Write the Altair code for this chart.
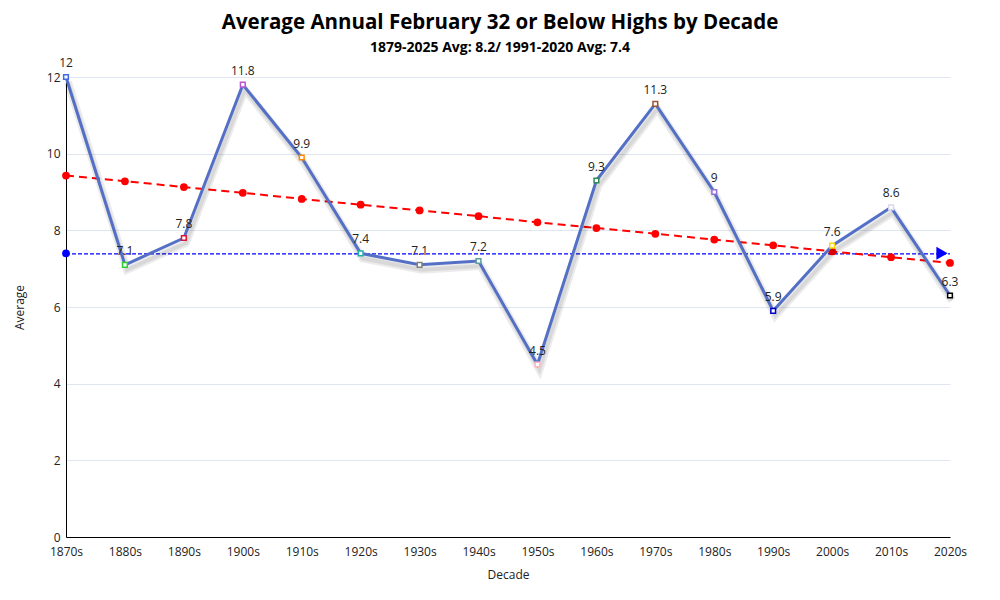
import altair as alt
import pandas as pd

decades = ["1870s", "1880s", "1890s", "1900s", "1910s", "1920s", "1930s", "1940s",
           "1950s", "1960s", "1970s", "1980s", "1990s", "2000s", "2010s", "2020s"]
values = [12, 7.1, 7.8, 11.8, 9.9, 7.4, 7.1, 7.2, 4.5, 9.3, 11.3, 9, 5.9, 7.6, 8.6, 6.3]
trend = [9.43, 9.28, 9.13, 8.98, 8.82, 8.67, 8.52, 8.37, 8.21, 8.06, 7.91, 7.76, 7.61, 7.45, 7.30, 7.15]
normal = 7.4
point_colors = ["#4169e1", "#32cd32", "#dc143c", "#ba55d3", "#ff8c00", "#20b2aa", "#808080", "#5f9ea0",
                "#ffb6c1", "#2e8b57", "#a0522d", "#9370db", "#0000cd", "#ffd700", "#d8d8f0", "#000000"]

df = pd.DataFrame({"decade": decades, "value": values, "trend": trend,
                   "normal": [normal] * len(decades)})
df_label = df.assign(label=[f"{v:g}" for v in values])
df_start = df.iloc[[0]]
df_end = df.iloc[[-1]]

FONT = "Open Sans"

x_enc = alt.X("decade:N", sort=decades, title="Decade",
              scale=alt.Scale(type="point", padding=0),
              axis=alt.Axis(labelAngle=0, ticks=False, domainColor="#000", labelColor="#222",
                            labelFontSize=12, titleFontSize=12, titleFontWeight="normal",
                            titleColor="#222", titlePadding=12, grid=False, labelPadding=9))
y_scale = alt.Scale(domain=[0, 12], nice=False)
y_axis = alt.Axis(values=[0, 2, 4, 6, 8, 10, 12], ticks=False, domainColor="#000", labelColor="#222",
                  labelFontSize=12, titleFontSize=12, titleFontWeight="normal", titleColor="#222",
                  gridColor="#e0e6f1", titlePadding=20, labelPadding=6)

base = alt.Chart(df)

normal_line = base.mark_line(color="#0000ff", strokeWidth=1.2, strokeDash=[4, 2], yOffset=0.5).encode(
    x=x_enc, y=alt.Y("normal:Q", scale=y_scale, axis=y_axis, title="Average"))
normal_start = alt.Chart(df_start).mark_circle(color="#0000ff", size=60, opacity=1).encode(
    x=alt.X("decade:N", sort=decades), y=alt.Y("normal:Q"))
normal_end = alt.Chart(df_end).mark_point(shape="triangle-right", filled=True, color="#0000ff",
                                           size=170, opacity=1, xOffset=-8).encode(
    x=alt.X("decade:N", sort=decades), y=alt.Y("normal:Q"))

trend_line = base.mark_line(color="#ff0000", strokeWidth=2, strokeDash=[8, 5]).encode(
    x=alt.X("decade:N", sort=decades), y=alt.Y("trend:Q"))
trend_pts = base.mark_circle(color="#ff0000", size=60, opacity=1).encode(
    x=alt.X("decade:N", sort=decades), y=alt.Y("trend:Q"))

shadow = base.mark_line(color="#000", strokeWidth=8, opacity=0.08, xOffset=2, yOffset=5).encode(
    x=alt.X("decade:N", sort=decades), y=alt.Y("value:Q"))
shadow2 = base.mark_line(color="#000", strokeWidth=4, opacity=0.08, xOffset=2, yOffset=5).encode(
    x=alt.X("decade:N", sort=decades), y=alt.Y("value:Q"))
main_line = base.mark_line(color="#5470c6", strokeWidth=3).encode(
    x=alt.X("decade:N", sort=decades), y=alt.Y("value:Q"))
main_pts = base.mark_square(size=22, fill="white", fillOpacity=1, strokeWidth=1.5, opacity=1).encode(
    x=alt.X("decade:N", sort=decades), y=alt.Y("value:Q"),
    stroke=alt.Stroke("decade:N", sort=decades,
                      scale=alt.Scale(domain=decades, range=point_colors), legend=None))
labels = alt.Chart(df_label).mark_text(baseline="bottom", dy=-7, fontSize=12, color="#222", font=FONT).encode(
    x=alt.X("decade:N", sort=decades), y=alt.Y("value:Q"), text="label:N")

chart = alt.layer(normal_line, normal_start, normal_end, trend_line, trend_pts,
                  shadow, shadow2, main_line, main_pts, labels).properties(
    width=884, height=460,
    autosize=alt.AutoSizeParams(type="none"),
    padding={"left": 58, "top": 69, "right": 42, "bottom": 47},
    title=alt.TitleParams(
        text="Average Annual February 32 or Below Highs by Decade",
        subtitle="1879-2025 Avg: 8.2/ 1991-2020 Avg: 7.4",
        fontSize=20.5, fontWeight="bold", subtitleFontSize=14, subtitleFontWeight="bold",
        color="#000", subtitleColor="#000", font=FONT, subtitleFont=FONT,
        anchor="middle", frame="group", dx=-8, offset=2, subtitlePadding=8)
).configure(font=FONT).configure_view(stroke=None).configure_axis(labelFont=FONT, titleFont=FONT)

chart.save("out.html", embed_options={"renderer": "svg", "actions": False})
